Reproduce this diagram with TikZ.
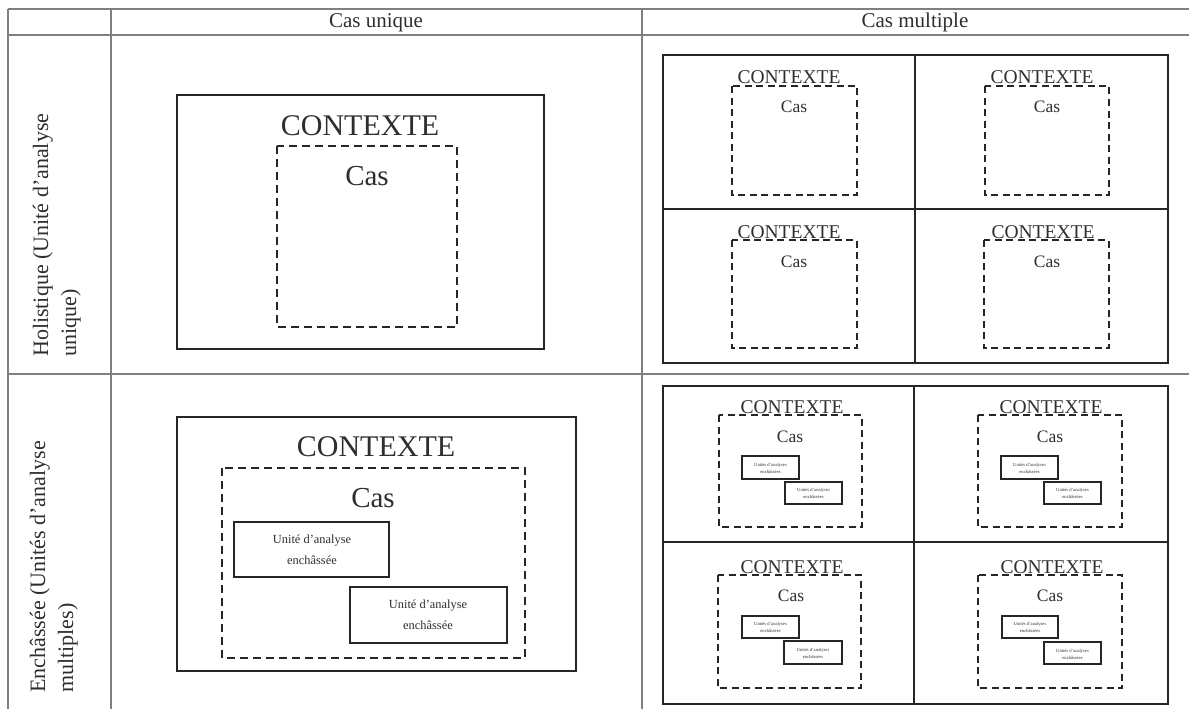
\documentclass[tikz,border=0pt]{standalone}
\usepackage{fontspec}
\setmainfont{Liberation Serif}
\definecolor{grid}{HTML}{808080}
\definecolor{ink}{HTML}{262626}
\definecolor{txt}{HTML}{2E2E2E}
\tikzset{
  gridline/.style={draw=grid,line width=1.1pt},
  solidbox/.style={draw=ink,line width=2pt},
  bigdash/.style={draw=ink,line width=2pt,dash pattern=on 8pt off 5pt},
  smalldash/.style={draw=ink,line width=2pt,dash pattern=on 7pt off 4.5pt},
  unitbox/.style={draw=ink,line width=1.6pt},
  tinybox/.style={draw=ink,line width=1.2pt},
  lbl/.style={text=txt,inner sep=0pt},
  hdr/.style={lbl,font=\fontsize{21}{21}\selectfont,anchor=base},
  side/.style={lbl,font=\fontsize{22}{22}\selectfont,anchor=base west,rotate=90},
  ctxbig/.style={lbl,font=\fontsize{30}{30}\selectfont,anchor=base},
  casbig/.style={lbl,font=\fontsize{29}{29}\selectfont,anchor=base},
  ctxmid/.style={lbl,font=\fontsize{19.5}{19.5}\selectfont,anchor=base},
  casmid/.style={lbl,font=\fontsize{17.5}{17.5}\selectfont,anchor=base},
  unittxt/.style={lbl,font=\fontsize{12.4}{12.4}\selectfont,anchor=base},
  tinytxt/.style={lbl,font=\fontsize{4.6}{4.6}\selectfont,anchor=base},
}
\begin{document}
\begin{tikzpicture}[x=1pt,y=-1pt]
\useasboundingbox (0,0) rectangle (1189,709);
% table grid
\coordinate (tl) at (8,9);
\coordinate (tr) at (1189,9);
\coordinate (hl) at (8,35);
\coordinate (hr) at (1189,35);
\coordinate (ml) at (8,374);
\coordinate (mr) at (1189,374);
\coordinate (bl) at (8,709);
\coordinate (c1t) at (111,9);
\coordinate (c1b) at (111,709);
\coordinate (c2t) at (642,9);
\coordinate (c2b) at (642,709);
\draw[gridline] (tl) -- (tr);
\draw[gridline] (hl) -- (hr);
\draw[gridline] (ml) -- (mr);
\draw[gridline] (tl) -- (bl);
\draw[gridline] (c1t) -- (c1b);
\draw[gridline] (c2t) -- (c2b);
% headers
\node[hdr] (hcu) at (376,28) {Cas unique};
\node[hdr] (hcm) at (915,28) {Cas multiple};
% side labels
\node[side] (s1a) at (48,357) {Holistique (Unité d’analyse};
\node[side] (s1b) at (76,357) {unique)};
\node[side] (s2a) at (45,693) {Enchâssée (Unités d’analyse};
\node[side] (s2b) at (73,693) {multiples)};
% ---- cell: holistic single
\draw[solidbox] (177,95) rectangle (544,349);
\node[ctxbig] (ctx1) at (360,135) {CONTEXTE};
\draw[bigdash] (277,146) rectangle (457,327);
\node[casbig] (cas1) at (367,185) {Cas};
% ---- cell: embedded single
\draw[solidbox] (177,417) rectangle (576,671);
\node[ctxbig] (ctx2) at (376,456) {CONTEXTE};
\draw[bigdash] (222,468) rectangle (525,658);
\node[casbig] (cas2) at (373,507) {Cas};
\draw[unitbox] (234,522) rectangle (389,577);
\node[unittxt] (u1a) at (312,543) {Unité d’analyse};
\node[unittxt] (u1b) at (312,564) {enchâssée};
\draw[unitbox] (350,587) rectangle (507,643);
\node[unittxt] (u2a) at (428,608) {Unité d’analyse};
\node[unittxt] (u2b) at (428,629) {enchâssée};
% ---- cell: holistic multiple
\draw[solidbox] (663,55) rectangle (1168,363);
\draw[solidbox] (915,55) -- (915,363);
\draw[solidbox] (663,209) -- (1168,209);
\draw[smalldash] (732,86) rectangle (857,195);
\node[ctxmid] (hm1c) at (789,84) {CONTEXTE};
\node[casmid] (hm1s) at (794,113) {Cas};
\draw[smalldash] (985,86) rectangle (1109,195);
\node[ctxmid] (hm2c) at (1042,84) {CONTEXTE};
\node[casmid] (hm2s) at (1047,113) {Cas};
\draw[smalldash] (732,240) rectangle (857,348);
\node[ctxmid] (hm3c) at (789,238) {CONTEXTE};
\node[casmid] (hm3s) at (794,267) {Cas};
\draw[smalldash] (984,240) rectangle (1109,348);
\node[ctxmid] (hm4c) at (1043,238) {CONTEXTE};
\node[casmid] (hm4s) at (1047,267) {Cas};
% ---- cell: embedded multiple
\draw[solidbox] (663,386) rectangle (1168,704);
\draw[solidbox] (914,386) -- (914,704);
\draw[solidbox] (663,542) -- (1168,542);
% Q1
\draw[smalldash] (719,415) rectangle (862,527);
\node[ctxmid] (em1c) at (792,413) {CONTEXTE};
\node[casmid] (em1s) at (790,442) {Cas};
\draw[tinybox] (742,456) rectangle (799,479);
\node[tinytxt] (em1a) at (770.5,466) {Unités d’analyses};
\node[tinytxt] (em1b) at (770.5,473) {enchâssées};
\draw[tinybox] (785,482) rectangle (842,504);
\node[tinytxt] (em1d) at (813.5,491.5) {Unités d’analyses};
\node[tinytxt] (em1e) at (813.5,498.5) {enchâssées};
% Q2
\draw[smalldash] (978,415) rectangle (1122,527);
\node[ctxmid] (em2c) at (1051,413) {CONTEXTE};
\node[casmid] (em2s) at (1050,442) {Cas};
\draw[tinybox] (1001,456) rectangle (1058,479);
\node[tinytxt] (em2a) at (1029.5,466) {Unités d’analyses};
\node[tinytxt] (em2b) at (1029.5,473) {enchâssées};
\draw[tinybox] (1044,482) rectangle (1101,504);
\node[tinytxt] (em2d) at (1072.5,491.5) {Unités d’analyses};
\node[tinytxt] (em2e) at (1072.5,498.5) {enchâssées};
% Q3
\draw[smalldash] (718,575) rectangle (861,688);
\node[ctxmid] (em3c) at (792,573) {CONTEXTE};
\node[casmid] (em3s) at (791,601) {Cas};
\draw[tinybox] (742,616) rectangle (799,638);
\node[tinytxt] (em3a) at (770.5,625.5) {Unités d’analyses};
\node[tinytxt] (em3b) at (770.5,632.5) {enchâssées};
\draw[tinybox] (784,641) rectangle (842,664);
\node[tinytxt] (em3d) at (813,651) {Unités d’analyses};
\node[tinytxt] (em3e) at (813,658) {enchâssées};
% Q4
\draw[smalldash] (978,575) rectangle (1122,688);
\node[ctxmid] (em4c) at (1052,573) {CONTEXTE};
\node[casmid] (em4s) at (1050,601) {Cas};
\draw[tinybox] (1002,616) rectangle (1058,638);
\node[tinytxt] (em4a) at (1030,625.5) {Unités d’analyses};
\node[tinytxt] (em4b) at (1030,632.5) {enchâssées};
\draw[tinybox] (1044,642) rectangle (1101,664);
\node[tinytxt] (em4d) at (1072.5,652) {Unités d’analyses};
\node[tinytxt] (em4e) at (1072.5,659) {enchâssées};
\end{tikzpicture}
\end{document}
